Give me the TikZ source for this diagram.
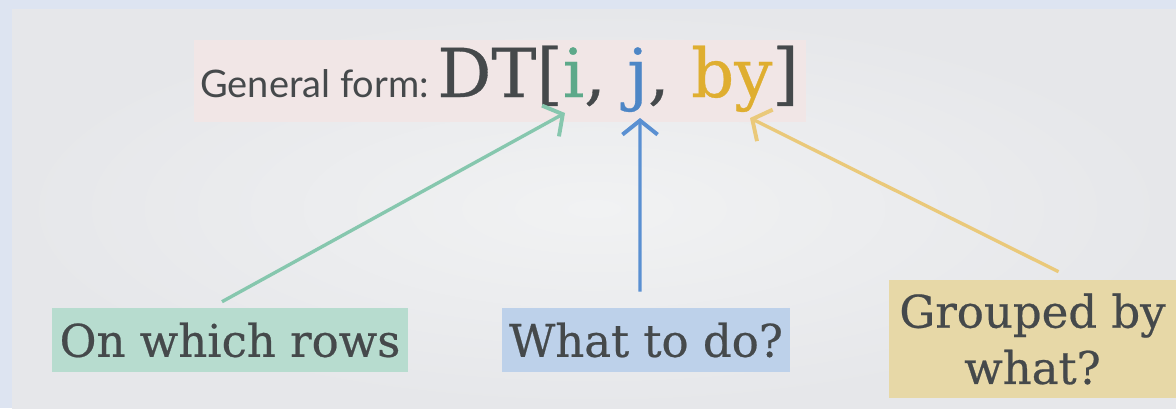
\documentclass[tikz,border=0pt]{standalone}
\usepackage{fontspec}
\setmainfont{DejaVu Serif}[FakeBold=0.5]
\newfontfamily\formfont{Lato}
\usepackage{tikz}
\usetikzlibrary{arrows.meta, positioning, calc}

\definecolor{framebg}{HTML}{DDE4F1}
\definecolor{slidebg}{HTML}{E6E7EA}
\definecolor{slidelight}{HTML}{F1F2F3}
\definecolor{formpink}{HTML}{F1E6E6}
\definecolor{textgray}{HTML}{45494B}
\definecolor{rowsfill}{HTML}{B7DCCF}
\definecolor{dofill}{HTML}{BDD1EA}
\definecolor{byfill}{HTML}{E7D8A7}
\definecolor{igreen}{HTML}{5DA98A}
\definecolor{jblue}{HTML}{4D86C6}
\definecolor{bygold}{HTML}{DFAE30}
\definecolor{arrgreen}{HTML}{86C7AE}
\definecolor{arrblue}{HTML}{5A90D2}
\definecolor{arrgold}{HTML}{EAC97A}

\begin{document}
\begin{tikzpicture}[x=0.025cm, y=-0.025cm,
        label box/.style={rectangle, text=textgray, font=\fontsize{32}{40}\selectfont, align=center, inner sep=0pt},
        pointer/.style={line width=2.4pt, {Straight Barb[length=10pt, width=25pt, line width=2.8pt]}-}
    ]
        \useasboundingbox (0,0) rectangle (1176,408);

        % Slide background
        \fill[framebg] (0,0) rectangle (1176,408);
        \shade[inner color=slidelight, outer color=slidebg] (12,9) rectangle (1176,408);

        % General form
        \node[rectangle, fill=formpink, minimum width=15.3cm, minimum height=2.05cm] (formbox) at (500,81) {};
        \node[anchor=base west, inner sep=0pt, text=textgray, font=\formfont\fontsize{27}{27}\selectfont] (general) at (200,97) {General form:};
        \node[anchor=base west, inner sep=0pt, text=textgray, font=\fontsize{48}{48}\selectfont] (dtform) at (437,97)
            {DT[\textcolor{igreen}{i}, \textcolor{jblue}{j}, \textcolor{bygold}{by}]};

        % Arrow tips
        \coordinate (tipi) at (565,113);
        \coordinate (tipj) at (640,118);
        \coordinate (tipby) at (750,118);

        % Boxes
        \node[label box, fill=rowsfill, minimum width=8.9cm, minimum height=1.6cm] (rows) at (230,340) {On which rows};
        \node[label box, fill=dofill, minimum width=7.2cm, minimum height=1.6cm] (todo) at (646,340) {What to do?};
        \node[label box, fill=byfill, minimum width=7.175cm, minimum height=2.95cm] (grouped) at (1032.5,339) {Grouped by\\what?};

        % Arrows
        \draw[pointer, arrgreen] (tipi) -- ([xshift=-0.2cm, yshift=0.15cm]rows.north);
        \draw[pointer, arrblue] (tipj) -- ([xshift=-0.15cm, yshift=0.4cm]todo.north);
        \draw[pointer, arrgold] (tipby) -- ([xshift=0.65cm, yshift=0.2cm]grouped.north);
    \end{tikzpicture}
\end{document}
